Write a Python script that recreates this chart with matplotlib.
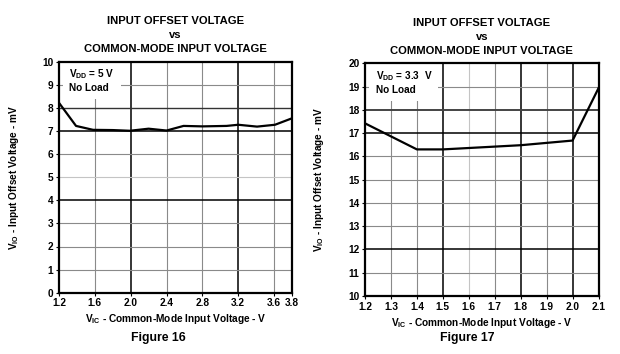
import matplotlib
matplotlib.use("Agg")
import matplotlib.pyplot as plt

plt.rcParams['font.family'] = ['Liberation Sans', 'DejaVu Sans']
plt.rcParams['font.weight'] = 'bold'
plt.rcParams['mathtext.fontset'] = 'custom'
plt.rcParams['mathtext.rm'] = 'Liberation Sans:bold'
plt.rcParams['mathtext.it'] = 'Liberation Sans:bold'
plt.rcParams['mathtext.bf'] = 'Liberation Sans:bold'

# Figure 16 data (VDD = 5 V)
vic16 = [1.2, 1.39, 1.58, 1.8, 1.99, 2.2, 2.4, 2.59, 2.8, 3.07, 3.2, 3.41, 3.61, 3.8]
vio16 = [8.22, 7.22, 7.05, 7.04, 7.01, 7.1, 7.02, 7.22, 7.2, 7.22, 7.27, 7.19, 7.27, 7.55]
xt16 = [1.2, 1.6, 2.0, 2.4, 2.8, 3.2, 3.6, 3.8]
xl16 = ['1.2', '1.6', '2.0', '2.4', '2.8', '3.2', '3.6', '3.8']
yt16 = list(range(0, 11))

# Figure 17 data (VDD = 3.3 V)
vic17 = [1.2, 1.4, 1.5, 1.8, 2.0, 2.1]
vio17 = [17.42, 16.3, 16.3, 16.48, 16.68, 18.93]
xt17 = [1.2, 1.3, 1.4, 1.5, 1.6, 1.7, 1.8, 1.9, 2.0, 2.1]
xl17 = ['1.2', '1.3', '1.4', '1.5', '1.6', '1.7', '1.8', '1.9', '2.0', '2.1']
yt17 = list(range(10, 21))

fig = plt.figure(figsize=(6.2, 3.54), dpi=100)

def setup(ax, x, y, xt, xl, yt, xlim, ylim, vgrid, hgrid, boxtxt, fig_label, fig_x):
    ax.set_xlim(*xlim)
    ax.set_ylim(*ylim)
    for v, c, lw in vgrid:
        ax.axvline(v, color=c, lw=lw, zorder=1)
    for h, c, lw in hgrid:
        ax.axhline(h, color=c, lw=lw, zorder=1)
    ax.plot(x, y, color='black', lw=1.6, zorder=4)
    ax.set_xticks(xt)
    ax.set_xticklabels(xl)
    ax.set_yticks(yt)
    ax.tick_params(axis='both', labelsize=7.3, length=2.5, width=0.8, pad=1.5)
    for lab in ax.get_xticklabels() + ax.get_yticklabels():
        lab.set_fontweight('bold')
    for s in ax.spines.values():
        s.set_linewidth(1.6)
        s.set_zorder(5)
    ax.text(0.045, 0.975, boxtxt, transform=ax.transAxes, fontsize=7.2, fontweight='bold',
            va='top', ha='left', linespacing=1.25, zorder=3,
            bbox=dict(facecolor='white', edgecolor='none', pad=4.5))
    ax.set_xlabel(r'$\mathrm{V_{IC}}$ - Common-Mode Input Voltage - V', fontsize=7.3, fontweight='bold', labelpad=3)
    ax.set_ylabel(r'$\mathrm{V_{IO}}$ - Input Offset Voltage - mV', fontsize=7.2, fontweight='bold', labelpad=8)
    ax.set_title('INPUT OFFSET VOLTAGE\nvs\nCOMMON-MODE INPUT VOLTAGE', fontsize=8.1,
                 fontweight='bold', linespacing=1.5, pad=7)
    fig.text(fig_x, 1 - 338 / 354, fig_label, fontsize=8.8, fontweight='bold', ha='center', va='center')

G = '#8a8a8a'
L = '#c4c4c4'
K = 'black'

ax1 = fig.add_axes([59 / 620, 1 - 292.7 / 354, 233 / 620, 231 / 354])
setup(ax1, vic16, vio16, xt16, xl16, yt16, (1.2, 3.8), (0, 10),
      [(1.6, G, 0.8), (2.0, K, 1.1), (2.4, G, 0.8), (2.8, G, 0.8), (3.2, K, 1.1), (3.6, G, 0.8)],
      [(1, G, 0.8), (2, G, 0.8), (3, G, 0.8), (4, K, 1.1), (5, L, 0.8), (6, G, 0.8),
       (7, K, 1.1), (8, '#333333', 1.0), (9, G, 0.8)],
      r'$\mathrm{V_{DD}}$ = 5 V' + '\nNo Load', 'Figure 16', 158 / 620)
ax1.yaxis.set_label_coords(-0.165, 0.5)

ax2 = fig.add_axes([365 / 620, 1 - 296 / 354, 233.5 / 620, 232.7 / 354])
setup(ax2, vic17, vio17, xt17, xl17, yt17, (1.2, 2.1), (10, 20),
      [(1.3, G, 0.8), (1.4, G, 0.8), (1.5, K, 1.1), (1.6, L, 0.8), (1.7, G, 0.8), (1.8, K, 1.1),
       (1.9, G, 0.8), (2.0, K, 1.1)],
      [(11, G, 0.8), (12, K, 1.1), (13, G, 0.8), (14, G, 0.8), (15, G, 0.8), (16, G, 0.8),
       (17, K, 1.1), (18, '#444444', 1.4), (19, G, 0.8)],
      r'$\mathrm{V_{DD}}$ = 3.3  V' + '\nNo Load', 'Figure 17', 467 / 620)
ax2.yaxis.set_label_coords(-0.165, 0.5)

fig.savefig('out.png', dpi=100)
